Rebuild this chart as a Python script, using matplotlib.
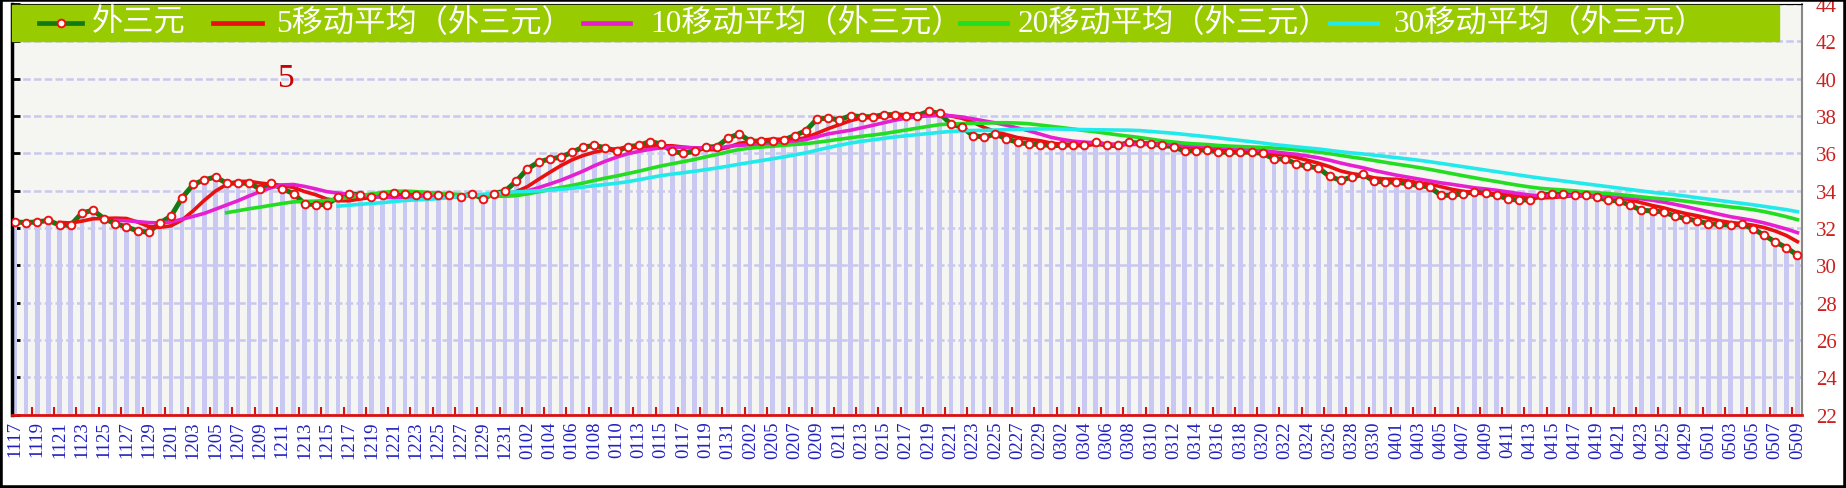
import numpy as np
import pandas as pd
import matplotlib
matplotlib.use("Agg")
import matplotlib.pyplot as plt
from matplotlib.patches import Rectangle
from matplotlib.lines import Line2D

# 外三元 daily values (161 points, 1117 .. 0509)
values = [
    32.32, 32.29, 32.32, 32.41, 32.15, 32.15, 32.80, 32.95, 32.50, 32.23,
    32.06, 31.84, 31.77, 32.27, 32.63, 33.62, 34.33, 34.58, 34.73, 34.40,
    34.40, 34.40, 34.10, 34.40, 34.10, 33.84, 33.30, 33.25, 33.25, 33.66,
    33.84, 33.78, 33.66, 33.75, 33.87, 33.84, 33.78, 33.75, 33.75, 33.75,
    33.66, 33.84, 33.57, 33.84, 33.98, 34.51, 35.17, 35.53, 35.70, 35.79,
    36.06, 36.33, 36.42, 36.30, 36.11, 36.36, 36.42, 36.63, 36.50, 36.11,
    36.00, 36.11, 36.33, 36.36, 36.81, 37.04, 36.65, 36.65, 36.65, 36.72,
    36.95, 37.22, 37.84, 37.88, 37.79, 38.02, 37.96, 37.96, 38.07, 38.07,
    38.02, 38.02, 38.25, 38.14, 37.57, 37.40, 36.95, 36.86, 37.04, 36.77,
    36.59, 36.50, 36.47, 36.42, 36.42, 36.47, 36.42, 36.59, 36.42, 36.42,
    36.59, 36.54, 36.50, 36.42, 36.36, 36.11, 36.15, 36.20, 36.06, 36.06,
    36.06, 36.06, 36.00, 35.70, 35.70, 35.44, 35.30, 35.22, 34.76, 34.55,
    34.73, 34.87, 34.51, 34.46, 34.46, 34.37, 34.28, 34.19, 33.75, 33.75,
    33.84, 33.93, 33.87, 33.75, 33.57, 33.48, 33.52, 33.75, 33.84, 33.80,
    33.75, 33.75, 33.66, 33.48, 33.45, 33.21, 32.95, 32.91, 32.86, 32.63,
    32.50, 32.38, 32.23, 32.20, 32.15, 32.20, 31.97, 31.61, 31.26, 30.95, 30.54,
]

# every other date is labelled on the axis
tick_labels = [
    "1117", "1119", "1121", "1123", "1125", "1127", "1129", "1201", "1203", "1205",
    "1207", "1209", "1211", "1213", "1215", "1217", "1219", "1221", "1223", "1225",
    "1227", "1229", "1231", "0102", "0104", "0106", "0108", "0110", "0113", "0115",
    "0117", "0119", "0131", "0202", "0205", "0207", "0209", "0211", "0213", "0215",
    "0217", "0219", "0221", "0223", "0225", "0227", "0229", "0302", "0304", "0306",
    "0308", "0310", "0312", "0314", "0316", "0318", "0320", "0322", "0324", "0326",
    "0328", "0330", "0401", "0403", "0405", "0407", "0409", "0411", "0413", "0415",
    "0417", "0419", "0421", "0423", "0425", "0429", "0501", "0503", "0505", "0507",
    "0509",
]

ma_periods = [5, 10, 20, 30]
ma_colors = ["#e81010", "#e620d0", "#22dd22", "#22eaea"]
legend_names = ["外三元", "5移动平均（外三元）", "10移动平均（外三元）",
                "20移动平均（外三元）", "30移动平均（外三元）"]

serif_cjk = ["Liberation Serif", "Noto Sans CJK SC"]

s = pd.Series(values)
x = np.arange(len(values))

W, H = 1846, 489
fig = plt.figure(figsize=(W / 100, H / 100), dpi=100)
fig.patch.set_facecolor("white")
ax = fig.add_axes([12 / W, (H - 415.6) / H, 1790 / W, 410.6 / H])
ax.set_facecolor("#f5f5f2")

ax.bar(x, values, width=0.4, color="#c8c8f2", zorder=1)
ax.set_axisbelow(True)
ax.grid(axis="y", color="#c8c8f0", lw=1.8, ls=(0, (3, 1.3)))

ax.plot(x, values, color="#137a13", lw=3.6, zorder=3)
for p, c in zip(ma_periods, ma_colors):
    ma = s.rolling(p).mean()
    ax.plot(x, ma, color=c, lw=2.6, zorder=4)
ax.plot(x, values, "o", ms=5.5, mfc="white", mec="#ee1111", mew=1.4, zorder=5)

ax.set_xlim(-0.27, 160.41)
ax.set_ylim(22, 44)
ax.set_yticks(range(22, 45, 2))
ax.tick_params(axis="y", left=True, right=False, labelleft=False, labelright=True,
               direction="in", length=6, width=2, color="black",
               labelcolor="#cc2020", labelsize=15, pad=10)
for t in ax.get_yticklabels():
    t.set_family("Liberation Serif")

ax.set_xticks(x[::2])
ax.set_xticklabels(tick_labels, rotation=90, family="Liberation Serif",
                   fontsize=13.5, color="#2020c0")
ax.set_xticks(np.arange(1.5, 160, 2), minor=True)
ax.tick_params(axis="x", which="major", length=0, pad=4)
ax.tick_params(axis="x", which="minor", direction="in", length=6, width=1.5,
               color="#dd1010")

ax.spines["bottom"].set_color("#dd1010")
ax.spines["bottom"].set_linewidth(2)
ax.spines["left"].set_color("black")
ax.spines["left"].set_linewidth(2.5)
ax.spines["right"].set_color("#888888")
ax.spines["right"].set_linewidth(1.5)
ax.spines["top"].set_color("black")

ax.text(0.153, 0.82, "5", transform=ax.transAxes, color="#cc0000",
        fontsize=24, family="Liberation Serif", ha="center", va="center")

# legend band across the top
fig.add_artist(Rectangle((12 / W, (H - 42) / H), (1779 - 12) / W, 36 / H,
                         transform=fig.transFigure, color="#99cc00", zorder=10))
ly = (H - 24) / H
handles = [(39, 82, 92), (213, 262, 276), (583, 630, 650), (960, 1007, 1018), (1330, 1377, 1393)]
line_colors = ["#137a13"] + ma_colors
for (x0, x1, tx), col, name in zip(handles, line_colors, legend_names):
    fig.add_artist(Line2D([x0 / W, x1 / W], [ly, ly], transform=fig.transFigure,
                          color=col, lw=3.4, zorder=11))
    if name == "外三元":
        fig.add_artist(Line2D([(x0 + x1) / 2 / W], [ly], transform=fig.transFigure,
                              marker="o", ms=5.5, mfc="white", mec="#ee1111", mew=1.4,
                              zorder=12))
    fig.text(tx / W, ly, name, color="white", fontsize=22.5, family=serif_cjk,
             ha="left", va="center", zorder=12)

# outer black frame
fig.add_artist(Rectangle((0, 0), 1, 1, transform=fig.transFigure, fill=False,
                         ec="black", lw=4, zorder=20))

fig.savefig("out.png", dpi=100)
